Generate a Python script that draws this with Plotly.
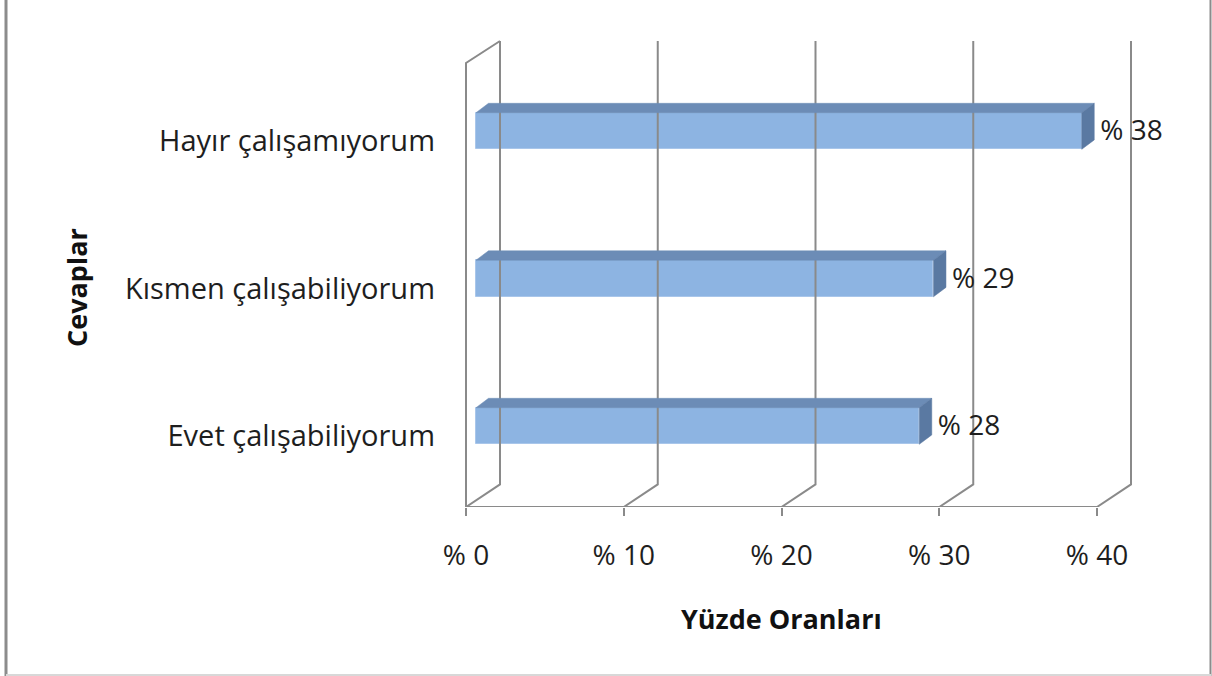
import plotly.graph_objects as go

# ---- data ----
categories = ["Evet çalışabiliyorum", "Kısmen çalışabiliyorum", "Hayır çalışamıyorum"]
values = [28.1, 29.0, 38.4]
tick_values = [0, 10, 20, 30, 40]
tick_labels = ["% 0", "% 10", "% 20", "% 30", "% 40"]
x_title = "Yüzde Oranları"
y_title = "Cevaplar"

# ---- geometry (pixel mapping helpers) ----
W, H = 1212, 676
ML, MR, MT, MB = 440, 40, 30, 169
PW, PH = W - ML - MR, H - MT - MB
KX = 15.775           # px per x unit
KY = 147.5            # px per category step
X0PX = 466            # pixel of x = 0 on front plane
xmin = -(X0PX - ML) / KX
xmax = (W - MR - X0PX) / KX
ymin = -(H - MB - 426) / KY
ymax = (426 - MT) / KY

DX = 34 / KX          # depth offset of back wall
DY = 22.6 / KY
front_top = (426 - 63) / KY
back_top = (426 - 41) / KY
bar_x0 = 10 / KX      # bar front face start (depth)
bar_h = 36.6 / KY
bdx = 12.5 / KX
bdy = 9.4 / KY

GRID = "#8a8a8a"
FACE = "#8db4e2"
TOP = "#6c8cb6"
SIDE = "#5a79a2"
TXT = "#1e1e1e"
FONT = "Open Sans"


def px_x(p):
    return (p - ML) / PW


def px_y(p):
    return (H - MB - p) / PH


fig = go.Figure()

# walls / grid
gx, gy = [], []
for t in tick_values:
    gx += [t, t + DX, t + DX, None]
    gy += [ymin, ymin + DY, back_top, None]
gx += [tick_values[0], tick_values[-1], None]
gy += [ymin, ymin, None]
gx += [tick_values[0], tick_values[0], tick_values[0] + DX, None]
gy += [ymin, front_top, back_top, None]
fig.add_trace(go.Scatter(x=gx, y=gy, mode="lines", line=dict(color=GRID, width=2),
                         hoverinfo="skip", showlegend=False))

ypos = list(range(len(categories)))

# front faces
fig.add_trace(go.Bar(x=values, y=ypos, base=[bar_x0] * len(values), orientation="h",
                     width=bar_h, marker=dict(color=FACE, line=dict(color="#a9c6ea", width=1)),
                     showlegend=False, hoverinfo="skip"))

# top and side faces
for yi, v in zip(ypos, values):
    x1 = bar_x0 + v
    yt = yi + bar_h / 2
    yb = yi - bar_h / 2
    fig.add_trace(go.Scatter(
        x=[bar_x0, x1, x1 + bdx, bar_x0 + bdx, bar_x0],
        y=[yt, yt, yt + bdy, yt + bdy, yt],
        fill="toself", fillcolor=TOP, mode="lines", line=dict(color=TOP, width=0.5),
        hoverinfo="skip", showlegend=False))
    fig.add_trace(go.Scatter(
        x=[x1, x1 + bdx, x1 + bdx, x1, x1],
        y=[yb, yb + bdy, yt + bdy, yt, yb],
        fill="toself", fillcolor=SIDE, mode="lines", line=dict(color=SIDE, width=0.5),
        hoverinfo="skip", showlegend=False))

# data labels
fig.add_trace(go.Scatter(
    x=[bar_x0 + v + bdx + 6 / KX for v in values],
    y=[yi - 2 / KY for yi in ypos],
    text=["% {:.0f}".format(v) for v in values],
    mode="text", textposition="middle right",
    textfont=dict(family=FONT, size=28, color=TXT),
    hoverinfo="skip", showlegend=False))

fig.update_layout(
    width=W, height=H,
    margin=dict(l=ML, r=MR, t=MT, b=MB),
    paper_bgcolor="white", plot_bgcolor="white",
    bargap=0,
    xaxis=dict(range=[xmin, xmax], tickvals=tick_values, ticktext=tick_labels,
               showgrid=False, zeroline=False, showline=False,
               ticks="outside", ticklen=8, tickwidth=2, tickcolor=GRID,
               ticklabelstandoff=15,
               tickfont=dict(family=FONT, size=28, color=TXT)),
    yaxis=dict(range=[ymin, ymax], tickvals=[p - 10 / KY for p in ypos], ticktext=categories,
               showgrid=False, zeroline=False, showline=False, ticks="",
               ticklabelstandoff=4,
               tickfont=dict(family=FONT, size=29, color=TXT)),
    annotations=[
        dict(text="<b>" + x_title + "</b>", xref="x", yref="paper",
             x=(tick_values[0] + tick_values[-1]) / 2, y=px_y(618),
             showarrow=False, xanchor="center", yanchor="middle",
             font=dict(family=FONT, size=27, color="#111111")),
        dict(text="<b>" + y_title + "</b>", xref="paper", yref="paper",
             x=px_x(76), y=px_y(288), textangle=-90,
             showarrow=False, xanchor="center", yanchor="middle",
             font=dict(family=FONT, size=27, color="#111111")),
    ],
    shapes=[
        dict(type="line", xref="paper", yref="paper", x0=px_x(6), x1=px_x(6),
             y0=px_y(0), y1=px_y(676), line=dict(color="#8c8c8c", width=3)),
        dict(type="line", xref="paper", yref="paper", x0=px_x(1210.5), x1=px_x(1210.5),
             y0=px_y(0), y1=px_y(676), line=dict(color="#8c8c8c", width=2)),
        dict(type="line", xref="paper", yref="paper", x0=px_x(6), x1=px_x(1211),
             y0=px_y(675), y1=px_y(675), line=dict(color="#d8d8d8", width=2)),
    ],
)

fig.write_html("out.html", config={"displayModeBar": False},
               post_script="document.body.style.margin='0px';")
